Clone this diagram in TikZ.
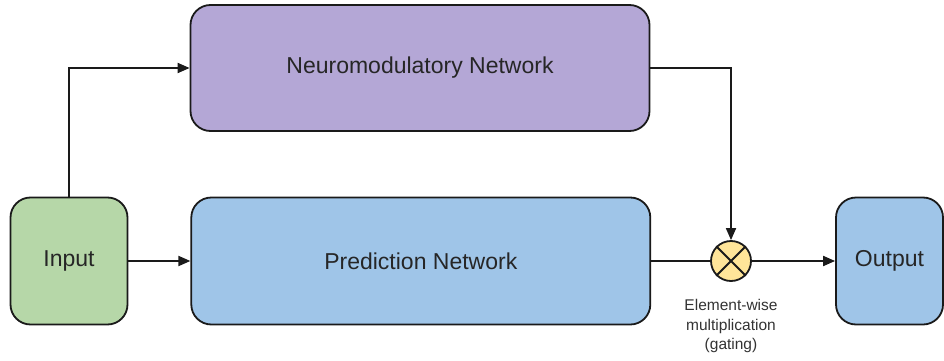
\documentclass[tikz,border=0pt]{standalone}
\usepackage{fontspec}
\setmainfont{Liberation Sans}
\usetikzlibrary{arrows.meta, positioning}
\definecolor{ingreen}{HTML}{B6D7A8}
\definecolor{netpurple}{HTML}{B4A7D6}
\definecolor{netblue}{HTML}{9FC5E8}
\definecolor{gateyellow}{HTML}{FFE599}
\definecolor{edge}{HTML}{1A1A1A}

\begin{document}
\begin{tikzpicture}[x=1pt, y=-1pt,
  box/.style={draw=edge, line width=1.8pt, rounded corners=20pt, align=center, inner sep=0pt, text=black!85, font=\fontsize{23}{26}\selectfont},
  arr/.style={-{Triangle[length=12pt, width=10pt]}, line width=1.8pt, edge}
]
  \useasboundingbox (0,0) rectangle (944,361);
  \node[box, fill=ingreen, minimum width=117pt, minimum height=127pt] (in) at (69,261) {Input};
  \node[box, fill=netpurple, minimum width=459pt, minimum height=126pt] (neuro) at (420,68) {Neuromodulatory Network};
  \node[box, fill=netblue, minimum width=459pt, minimum height=127pt, right=62pt of in] (pred) {Prediction Network};
  \node[circle, draw=edge, fill=gateyellow, line width=1.8pt, minimum size=40pt, inner sep=0pt] (gate) at (731,261) {};
  \node[box, fill=netblue, minimum width=107pt, minimum height=127pt] (out) at (889.5,261) {Output};
  \node[align=center, text=black!80, font=\fontsize{15.5}{19.5}\selectfont, below=14pt of gate] (lbl) {Element-wise\\multiplication\\(gating)};

  \draw[line width=1.8pt, edge] (gate.45) -- (gate.225) (gate.135) -- (gate.315);
  \draw[arr] (in.north) |- (neuro.west);
  \draw[arr] (in) -- (pred);
  \draw[arr] (neuro.east) -| (gate.north);
  \draw[line width=1.8pt, edge] (pred) -- (gate);
  \draw[arr] (gate) -- (out);
\end{tikzpicture}
\end{document}
